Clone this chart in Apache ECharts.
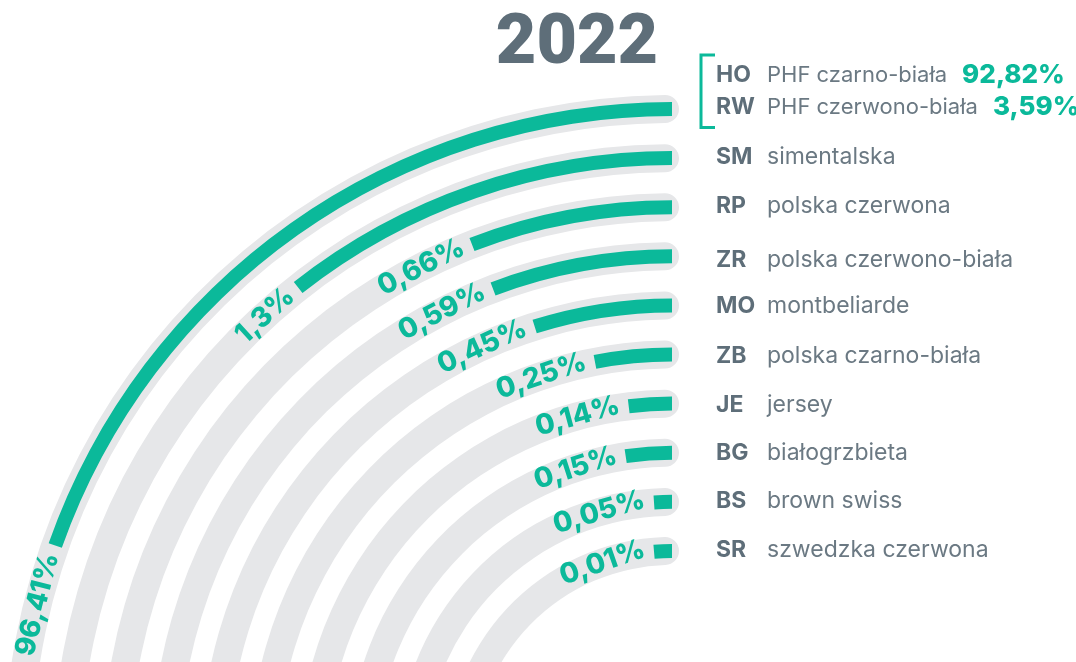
<!DOCTYPE html>
<html>
<head>
<meta charset="utf-8">
<script src="https://cdn.jsdelivr.net/npm/echarts@6/dist/echarts.min.js"></script>
<style>
  html, body { margin: 0; padding: 0; background: #ffffff; }
  #chart { width: 1076px; height: 662px; }
</style>
</head>
<body>
<div id="chart"></div>
<script>
// ---- data ---------------------------------------------------------------
const title = '2022';
// one ring per breed group, outermost first (HO + RW share the outer ring)
const ringCodes = ['HO+RW', 'SM', 'RP', 'ZR', 'MO', 'ZB', 'JE', 'BG', 'BS', 'SR'];
const ringShares = [96.41, 1.3, 0.66, 0.59, 0.45, 0.25, 0.14, 0.15, 0.05, 0.01];
const legendCodes = ['HO', 'RW', 'SM', 'RP', 'ZR', 'MO', 'ZB', 'JE', 'BG', 'BS', 'SR'];
const legendNames = ['PHF czarno-biała', 'PHF czerwono-biała', 'simentalska', 'polska czerwona',
  'polska czerwono-biała', 'montbeliarde', 'polska czarno-biała', 'jersey', 'białogrzbieta',
  'brown swiss', 'szwedzka czerwona'];
const holsteinShares = [92.82, 3.59];

// ---- layout & style -----------------------------------------------------
const CX = 672, CY = 763;          // common centre of all rings
const R_OUTER = 654, RING_STEP = 49.1;
const TRACK_W = 28, BAR_W = 14;
const PX_PER_PCT = 310;            // arc length per percent on the inner rings
const OUTER_SWEEP = 73.2;          // degrees that 100 % spans on the outer ring
const MIN_ARC_PX = 18;             // shortest visible bar
const LABEL_GAP = 9;
const TRACK_LEAD = 7;              // track cap starts a little past the bar start
const legendRowY = [75, 107, 157, 206, 260, 306, 356, 405, 453, 501, 550];
const CODE_X = 716, NAME_X = 767;

const GREEN = '#0bb99a', TRACK = '#e6e7e9', INK = '#5e6e79', INK_LIGHT = '#6b7983';
const LABEL_FONT = '800 28px Inter';
const CODE_FONT = '700 23px Inter';
const NAME_FONT = '400 23px Inter';
const PHF_NAME_FONT = '400 22px Inter';   // the two bracketed Holstein rows are set a touch smaller
const SHARE_FONT = '800 26px Inter';
const TITLE_FONT = '900 70px Roboto';

const measureCtx = document.createElement('canvas').getContext('2d');
function textWidth(t, font) { measureCtx.font = font; return measureCtx.measureText(t).width; }
const fmt = v => String(v).replace('.', ',') + '%';

const ringR = ringCodes.map((_, i) => R_OUTER - i * RING_STEP);
const hidden = {
  axisLine: { show: false }, axisTick: { show: false }, axisLabel: { show: false },
  splitLine: { show: false }, splitArea: { show: false }
};

// polar 0 holds the grey tracks, polars 1..n hold one green ring each
const polar = [{ center: [CX, CY], radius: [ringR[ringR.length - 1] - RING_STEP / 2, R_OUTER + RING_STEP / 2] }];
const angleAxis = [{ polarIndex: 0, type: 'value', min: 0, max: 360, startAngle: 90, clockwise: false, ...hidden }];
const radiusAxis = [{ polarIndex: 0, type: 'category', data: ringCodes, inverse: true, ...hidden }];

const series = [
  {
    type: 'bar', coordinateSystem: 'polar', polarIndex: 0, stack: 'track', barWidth: TRACK_W,
    data: ringR.map(R => TRACK_LEAD / R * 180 / Math.PI),
    itemStyle: { color: 'rgba(0,0,0,0)' }, silent: true, z: 1
  },
  {
    type: 'bar', coordinateSystem: 'polar', polarIndex: 0, stack: 'track', barWidth: TRACK_W,
    roundCap: true, data: ringCodes.map(() => 100),
    itemStyle: { color: TRACK }, silent: true, z: 1
  }
];

ringCodes.forEach((code, i) => {
  const R = ringR[i];
  polar.push({ center: [CX, CY], radius: [R - BAR_W / 2, R + BAR_W / 2] });
  angleAxis.push({
    polarIndex: i + 1, type: 'value', min: 0,
    max: i === 0 ? 100 * 360 / OUTER_SWEEP : 2 * Math.PI * R / PX_PER_PCT,
    startAngle: 90, clockwise: false, ...hidden
  });
  radiusAxis.push({ polarIndex: i + 1, type: 'category', data: [code], ...hidden });

  series.push({
    type: 'bar', coordinateSystem: 'polar', polarIndex: i + 1, barWidth: '100%',
    barMinAngle: MIN_ARC_PX / R * 180 / Math.PI,
    data: [ringShares[i]], itemStyle: { color: GREEN }, silent: true, z: 2
  });

  // value label written along the ring, just past the end of the bar
  series.push({
    type: 'custom', coordinateSystem: 'polar', polarIndex: i + 1, silent: true, z: 3,
    data: [[code, ringShares[i]]],
    renderItem(params, api) {
      const cs = params.coordSys;
      const p = api.coord([api.value(0), api.value(1)]);
      const r = (cs.r + cs.r0) / 2;
      const phi = Math.atan2(cs.cy - p[1], p[0] - cs.cx);
      const sweep = Math.max(phi - Math.PI / 2, MIN_ARC_PX / r);
      const text = fmt(api.value(1));
      const w = textWidth(text, LABEL_FONT);
      const a = Math.PI / 2 + sweep + (LABEL_GAP + w / 2) / r;
      return {
        type: 'text',
        x: cs.cx + r * Math.cos(a), y: cs.cy - r * Math.sin(a),
        rotation: a - Math.PI / 2,
        style: {
          text, fill: GREEN, font: LABEL_FONT,
          align: 'center', verticalAlign: 'middle', textAlign: 'center', textVerticalAlign: 'middle'
        }
      };
    }
  });
});

// ---- title and breed key --------------------------------------------------
const graphic = [
  {
    type: 'text', x: 577, y: 45, silent: true,
    style: { text: title, font: TITLE_FONT, fill: INK, align: 'center', verticalAlign: 'middle',
             textAlign: 'center', textVerticalAlign: 'middle' }
  },
  {
    type: 'polyline', silent: true,
    shape: { points: [[715, 55], [701, 55], [701, 127.5], [715, 127.5]] },
    style: { stroke: GREEN, lineWidth: 3, fill: null }
  }
];
legendCodes.forEach((c, i) => {
  const y = legendRowY[i];
  const nameFont = i < holsteinShares.length ? PHF_NAME_FONT : NAME_FONT;
  graphic.push({
    type: 'text', x: CODE_X, y, silent: true,
    style: { text: c, font: CODE_FONT, fill: INK, verticalAlign: 'middle', textVerticalAlign: 'middle' }
  });
  graphic.push({
    type: 'text', x: NAME_X, y, silent: true,
    style: { text: legendNames[i], font: nameFont, fill: INK_LIGHT, verticalAlign: 'middle', textVerticalAlign: 'middle' }
  });
});
holsteinShares.forEach((v, i) => {
  graphic.push({
    type: 'text', x: NAME_X + textWidth(legendNames[i], PHF_NAME_FONT) + 15, y: legendRowY[i], silent: true,
    style: { text: fmt(v), font: SHARE_FONT, fill: GREEN, verticalAlign: 'middle', textVerticalAlign: 'middle' }
  });
});

const chart = echarts.init(document.getElementById('chart'), null, { renderer: 'canvas' });
chart.setOption({
  animation: false,
  backgroundColor: '#ffffff',
  polar, angleAxis, radiusAxis, series, graphic
});
</script>
</body>
</html>
